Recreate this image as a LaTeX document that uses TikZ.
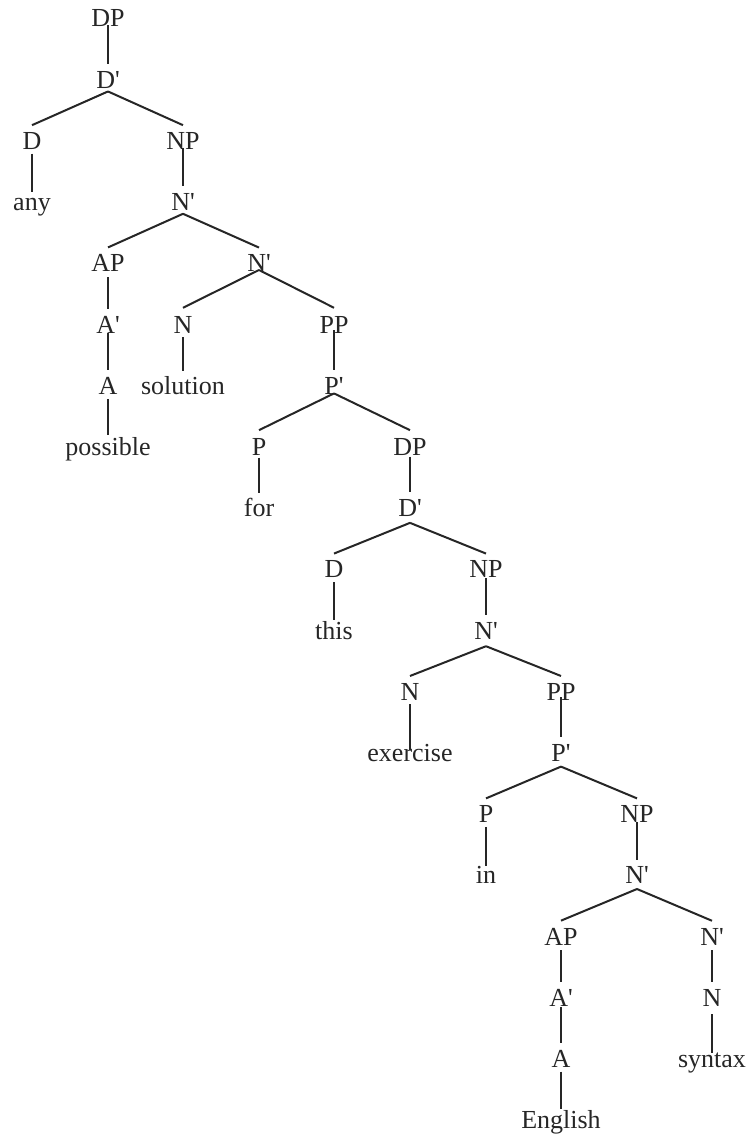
\documentclass[tikz,border=0pt]{standalone}
\usepackage{fontspec}
\newfontfamily\treefont{Liberation Serif}
\definecolor{ink}{HTML}{262626}
\newcommand\conn[4]{\draw[edge] ([yshift=-#3pt]#1.south) -- ([yshift=#4pt]#2.north);}
\begin{document}
\begin{tikzpicture}[
  lbl/.style={anchor=base, inner sep=0pt, text=ink, font=\treefont\fontsize{26}{30}\selectfont},
  edge/.style={draw=ink, line width=2pt}
]
\useasboundingbox (0pt,0pt) rectangle (754pt,-1142pt);
\begin{scope}[shift={(0pt,-27pt)}, x=1pt, y=-61.2pt]
\node[lbl] (dp0) at (108,0) {DP};
\node[lbl] (dbar1) at (108,1) {D'};
\node[lbl] (d2) at (32,2) {D};
\node[lbl] (np2) at (183,2) {NP};
\node[lbl] (any) at (32,3) {any};
\node[lbl] (nbar3) at (183,3) {N'};
\node[lbl] (ap4) at (108,4) {AP};
\node[lbl] (nbar4) at (259,4) {N'};
\node[lbl] (abar5) at (108,5) {A'};
\node[lbl] (n5) at (183,5) {N};
\node[lbl] (pp5) at (334,5) {PP};
\node[lbl] (a6) at (108,6) {A};
\node[lbl] (solution) at (183,6) {solution};
\node[lbl] (pbar6) at (334,6) {P'};
\node[lbl] (possible) at (108,7) {possible};
\node[lbl] (p7) at (259,7) {P};
\node[lbl] (dp7) at (410,7) {DP};
\node[lbl] (for) at (259,8) {for};
\node[lbl] (dbar8) at (410,8) {D'};
\node[lbl] (d9) at (334,9) {D};
\node[lbl] (np9) at (486,9) {NP};
\node[lbl] (this) at (334,10) {this};
\node[lbl] (nbar10) at (486,10) {N'};
\node[lbl] (n11) at (410,11) {N};
\node[lbl] (pp11) at (561,11) {PP};
\node[lbl] (exercise) at (410,12) {exercise};
\node[lbl] (pbar12) at (561,12) {P'};
\node[lbl] (p13) at (486,13) {P};
\node[lbl] (np13) at (637,13) {NP};
\node[lbl] (in) at (486,14) {in};
\node[lbl] (nbar14) at (637,14) {N'};
\node[lbl] (ap15) at (561,15) {AP};
\node[lbl] (nbar15) at (712,15) {N'};
\node[lbl] (abar16) at (561,16) {A'};
\node[lbl] (n16) at (712,16) {N};
\node[lbl] (a17) at (561,17) {A};
\node[lbl] (syntax) at (712,17) {syntax};
\node[lbl] (english) at (561,18) {English};
\end{scope}
\conn{dp0}{dbar1}{-2}{7}
\conn{dbar1}{d2}{3}{7}
\conn{dbar1}{np2}{3}{7}
\conn{d2}{any}{4}{6}
\conn{np2}{nbar3}{-2}{7}
\conn{nbar3}{ap4}{3}{7}
\conn{nbar3}{nbar4}{3}{7}
\conn{ap4}{abar5}{5}{7}
\conn{abar5}{a6}{0}{7}
\conn{a6}{possible}{5}{2}
\conn{nbar4}{n5}{-2}{8}
\conn{nbar4}{pp5}{-2}{8}
\conn{n5}{solution}{4}{5}
\conn{pp5}{pbar6}{-3}{7}
\conn{pbar6}{p7}{-1}{8}
\conn{pbar6}{dp7}{-1}{8}
\conn{p7}{for}{2}{5}
\conn{dp7}{dbar8}{1}{7}
\conn{dbar8}{d9}{6}{7}
\conn{dbar8}{np9}{6}{7}
\conn{d9}{this}{4}{1}
\conn{np9}{nbar10}{0}{7}
\conn{nbar10}{n11}{7}{7}
\conn{nbar10}{pp11}{7}{7}
\conn{n11}{exercise}{4}{-6}
\conn{pp11}{pbar12}{-3}{7}
\conn{pbar12}{p13}{5}{7}
\conn{pbar12}{np13}{5}{7}
\conn{p13}{in}{4}{0}
\conn{np13}{nbar14}{-1}{7}
\conn{nbar14}{ap15}{5}{7}
\conn{nbar14}{nbar15}{5}{7}
\conn{ap15}{abar16}{5}{7}
\conn{abar16}{a17}{1}{7}
\conn{a17}{english}{4}{1}
\conn{nbar15}{n16}{5}{7}
\conn{n16}{syntax}{8}{0}
\end{tikzpicture}
\end{document}
